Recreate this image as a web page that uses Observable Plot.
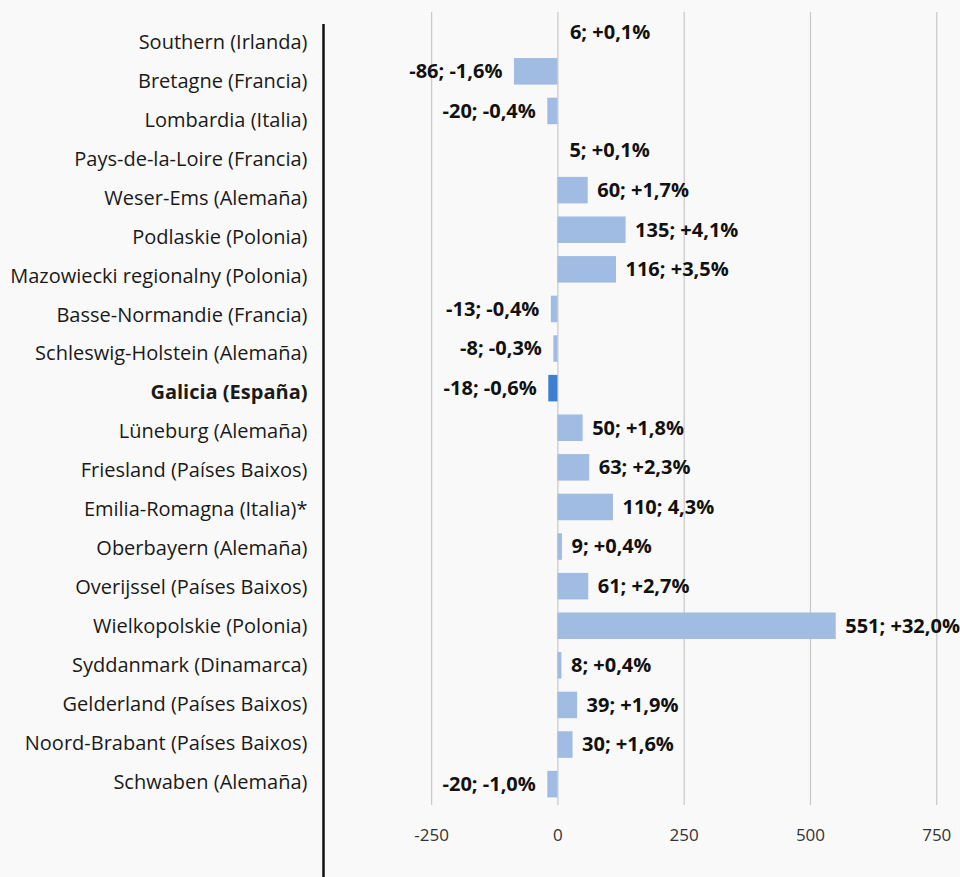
<!DOCTYPE html>
<html>
<head>
<meta charset="utf-8">
<script src="https://cdn.jsdelivr.net/npm/d3@7"></script>
<script src="https://cdn.jsdelivr.net/npm/@observablehq/plot@0.6"></script>
<style>
  html, body { margin: 0; padding: 0; background: #f9f9f9; }
  #chart { position: relative; width: 960px; height: 877px; background: #f9f9f9; display: flex; flex-direction: row; }
  #chart svg { display: block; }
</style>
</head>
<body>
<div id="chart"></div>
<script>
const regions = [
  "Southern (Irlanda)", "Bretagne (Francia)", "Lombardia (Italia)", "Pays-de-la-Loire (Francia)",
  "Weser-Ems (Alemaña)", "Podlaskie (Polonia)", "Mazowiecki regionalny (Polonia)", "Basse-Normandie (Francia)",
  "Schleswig-Holstein (Alemaña)", "Galicia (España)", "Lüneburg (Alemaña)", "Friesland (Países Baixos)",
  "Emilia-Romagna (Italia)*", "Oberbayern (Alemaña)", "Overijssel (Países Baixos)", "Wielkopolskie (Polonia)",
  "Syddanmark (Dinamarca)", "Gelderland (Países Baixos)", "Noord-Brabant (Países Baixos)", "Schwaben (Alemaña)"
];
const change = [6, -86, -20, 5, 60, 135, 116, -13, -8, -18, 50, 63, 110, 9, 61, 551, 8, 39, 30, -20];
const pctText = ["+0,1%", "-1,6%", "-0,4%", "+0,1%", "+1,7%", "+4,1%", "+3,5%", "-0,4%", "-0,3%", "-0,6%",
  "+1,8%", "+2,3%", "4,3%", "+0,4%", "+2,7%", "+32,0%", "+0,4%", "+1,9%", "+1,6%", "-1,0%"];
const barVisible = [false, true, true, false, true, true, true, true, true, true,
  true, true, true, true, true, true, true, true, true, true];
const highlight = "Galicia (España)";
const xTicks = [-250, 0, 250, 500, 750];

const rows = regions.map((name, i) => ({
  name, value: change[i], label: `${change[i]}; ${pctText[i]}`, bar: barVisible[i], hl: name === highlight
}));

const font = "'Open Sans', 'Noto Sans', sans-serif";

const left = Plot.plot({
  width: 321, height: 877,
  marginLeft: 0, marginRight: 14, marginTop: 0, marginBottom: 0,
  style: {background: "transparent", fontFamily: font},
  y: {type: "point", domain: regions, range: [42, 782], padding: 0, round: false, axis: null},
  marks: [
    Plot.text(rows.filter(d => !d.hl), {y: "name", text: "name", frameAnchor: "right", textAnchor: "end",
      fontSize: 20, fill: "#1a1a1a"}),
    Plot.text(rows.filter(d => d.hl), {y: "name", text: "name", frameAnchor: "right", textAnchor: "end",
      fontSize: 20, fontWeight: "bold", fill: "#1a1a1a"})
  ]
});

const right = Plot.plot({
  width: 639, height: 877,
  marginLeft: 0, marginRight: 0, marginTop: 12, marginBottom: 72,
  style: {background: "transparent", fontFamily: font, fontSize: "17px", color: "#333"},
  x: {domain: [-468, 797], ticks: xTicks, tickSize: 0, tickPadding: 23, tickFormat: d => String(d), label: null},
  y: {domain: regions, range: [5.4, 810.5], padding: 0.33, round: false, axis: null},
  marks: [
    Plot.ruleX(xTicks, {stroke: "#c8c8c8", strokeWidth: 1.2}),
    Plot.ruleX([-468], {stroke: "#111", strokeWidth: 2.5, dx: 2, insetTop: 12, insetBottom: -72}),
    Plot.barX(rows.filter(d => d.bar), {x: "value", y: "name", fill: d => d.hl ? "#3b80d0" : "#a0bce2"}),
    Plot.text(rows.filter(d => d.value >= 0), {x: "value", y: "name", text: "label", textAnchor: "start",
      dx: 9, fontSize: 20, fontWeight: "bold", fill: "#111"}),
    Plot.text(rows.filter(d => d.value < 0), {x: "value", y: "name", text: "label", textAnchor: "end",
      dx: -12, fontSize: 20, fontWeight: "bold", fill: "#111"})
  ]
});

const chart = document.getElementById("chart");
chart.appendChild(left);
chart.appendChild(right);
</script>
</body>
</html>
